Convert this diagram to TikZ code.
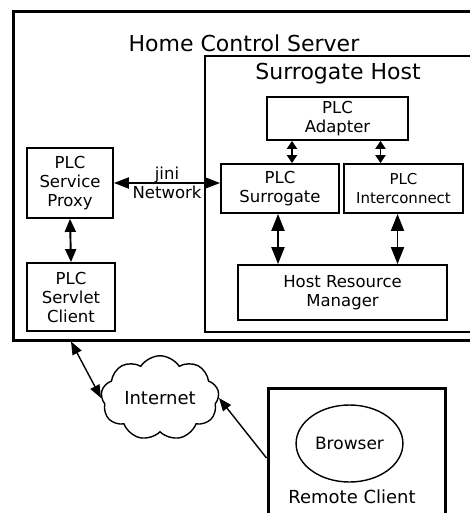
\documentclass[tikz,border=0pt]{standalone}
\usepackage{fontspec}
\setmainfont{DejaVu Sans}
\usetikzlibrary{arrows.meta,shapes.symbols,shapes.geometric}

\begin{document}
\begin{tikzpicture}[x=1pt,y=-1pt,
  box/.style={draw,line width=1.8pt,align=center,inner sep=0pt,
    font=\fontsize{16.5pt}{19pt}\selectfont},
  title/.style={font=\fontsize{22pt}{24pt}\selectfont},
  link/.style={line width=1.9pt,
    {Triangle[length=13pt,width=11pt]}-{Triangle[length=13pt,width=11pt]}},
  minilink/.style={line width=1.9pt,
    {Triangle[length=8pt,width=10pt]}-{Triangle[length=8pt,width=10pt]}}]

\useasboundingbox (0,0) rectangle (469,513);

% Containers
\node[draw,line width=3pt,minimum width=470pt,minimum height=328pt] (server) at (248,176) {};
\node[draw,line width=1.4pt,minimum width=278pt,minimum height=276pt] (host) at (344,194) {};
\node[title] (servertitle) at (244,43) {Home Control Server};
\node[title] (hosttitle) at (338,74) {Surrogate Host};

% Components
\node[box,minimum width=141pt,minimum height=43pt] (adapter) at (337.5,118.5) {PLC\\Adapter};
\node[box,minimum width=118pt,minimum height=49pt] (surrogate) at (280,188.5) {PLC\\Surrogate};
\node[box,minimum width=119pt,minimum height=49pt,
  font=\fontsize{15pt}{19pt}\selectfont] (interconnect) at (403.5,188.5) {PLC\\Interconnect};
\node[box,minimum width=86pt,minimum height=70pt] (proxy) at (70,183) {PLC\\Service\\Proxy};
\node[box,minimum width=88pt,minimum height=68pt] (client) at (71,297) {PLC\\Servlet\\Client};
\node[box,minimum width=209pt,minimum height=55pt] (manager) at (342.5,292.5) {Host Resource\\Manager};

% Outside
\node[cloud,draw,line width=1.4pt,cloud puffs=9,cloud puff arc=115,aspect=1.45,
  minimum width=118pt,minimum height=80pt,inner sep=0pt,
  font=\fontsize{18pt}{20pt}\selectfont] (internet) at (160,398) {Internet};
\node[draw,line width=3pt,minimum width=177pt,minimum height=140pt] (remote) at (356.5,458) {};
\node[ellipse,draw,line width=1.4pt,minimum width=105pt,minimum height=77pt,
  font=\fontsize{17pt}{19pt}\selectfont] (browser) at (349.5,443.5) {Browser};
\node[font=\fontsize{18pt}{20pt}\selectfont] (remotetitle) at (352,497) {Remote Client};

% Links
\draw[link,{Triangle[length=15pt,width=11pt]}-{Triangle[length=15pt,width=11pt]}]
  (proxy.east) -- (proxy.east -| surrogate.west)
  node[midway,align=center,font=\fontsize{16.5pt}{19pt}\selectfont] (jini) {jini\\Network};
\draw[minilink] ([xshift=12pt]surrogate.north |- adapter.south) -- ([xshift=12pt]surrogate.north);
\draw[minilink] ([xshift=-23pt]interconnect.north |- adapter.south) -- ([xshift=-23pt]interconnect.north);
\draw[link] (proxy.south) -- (client.north);
\draw[link,{Triangle[length=17pt,width=13pt]}-{Triangle[length=17pt,width=13pt]}]
  ([xshift=-2pt]surrogate.south) -- ([xshift=-2pt]surrogate.south |- manager.north);
\draw[link,{Triangle[length=17pt,width=13pt]}-{Triangle[length=17pt,width=13pt]}]
  ([xshift=-6pt]interconnect.south) -- ([xshift=-6pt]interconnect.south |- manager.north);
\coordinate (exit) at (client.south |- server.south);
\draw[line width=1.4pt,{Triangle[length=13pt,width=10pt]}-{Triangle[length=13pt,width=10pt]}]
  (exit) -- (internet.west);
\draw[line width=1.4pt,-{Triangle[length=13pt,width=10pt]}] (remote.west) -- (internet.east);

\end{tikzpicture}
\end{document}
